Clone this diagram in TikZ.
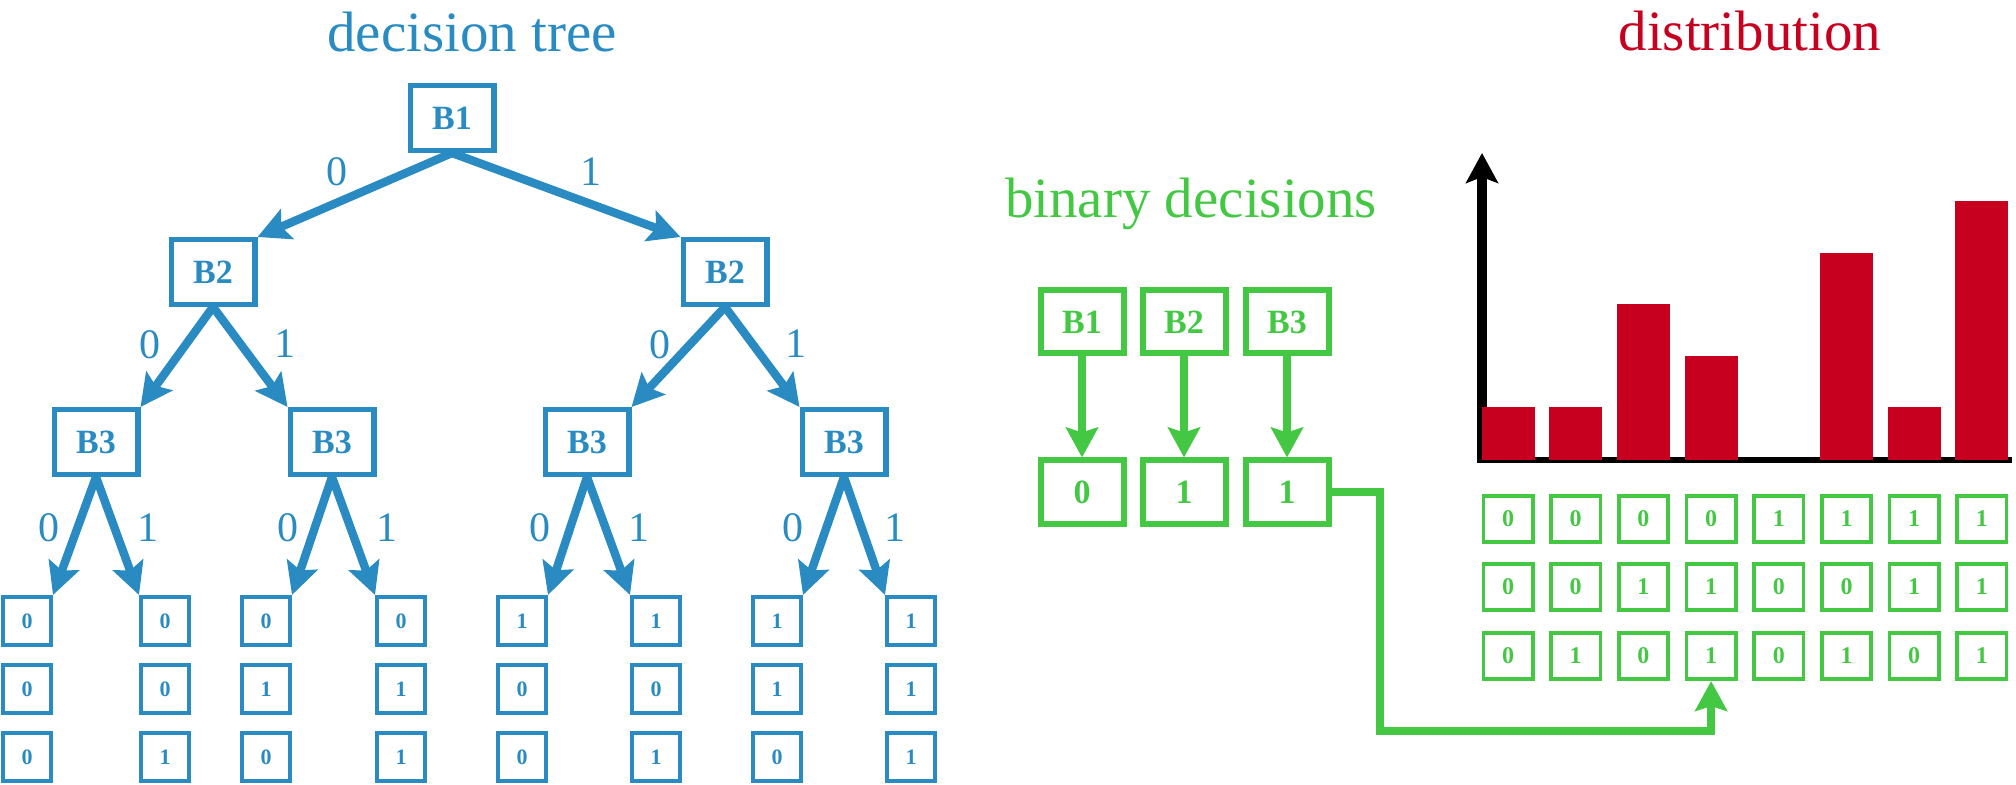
\documentclass[tikz,border=0pt]{standalone}
\usepackage{fontspec}
\setmainfont{Liberation Serif}
\usetikzlibrary{arrows.meta}
\definecolor{tblue}{RGB}{41,139,194}
\definecolor{ggreen}{RGB}{68,200,68}
\definecolor{dred}{RGB}{200,0,32}
\tikzset{
  tbox/.style={draw=tblue, line width=2.6pt, minimum width=41.9pt, minimum height=32.4pt, inner sep=0pt, text=tblue, font=\bfseries\fontsize{17}{17}\selectfont},
  leafbox/.style={draw=tblue, line width=1.8pt, minimum width=24.2pt, minimum height=24.2pt, inner sep=0pt, text=tblue, font=\bfseries\fontsize{11}{11}\selectfont},
  tarrow/.style={draw=tblue, line width=4.2pt, line cap=round, -{Stealth[length=16pt,width=16pt,inset=3pt]}},
  elabel/.style={text=tblue, font=\fontsize{21}{21}\selectfont, inner sep=0pt},
  gbox/.style={draw=ggreen, line width=3pt, minimum width=41.5pt, minimum height=31.5pt, inner sep=0pt, text=ggreen, font=\bfseries\fontsize{17}{17}\selectfont},
  gcell/.style={draw=ggreen, line width=1.8pt, minimum width=24.7pt, minimum height=23.2pt, inner sep=0pt, text=ggreen, font=\bfseries\fontsize{12}{12}\selectfont},
  garrow/.style={draw=ggreen, line width=4.2pt, -{Stealth[length=15pt,width=16pt,inset=2.5pt]}},
  barrect/.style={fill=dred, draw=none},
  titletext/.style={anchor=base, inner sep=0pt, font=\fontsize{28.5}{30}\selectfont},
}
\begin{document}
\begin{tikzpicture}[x=0.5pt,y=-0.5pt]
\useasboundingbox (0,0) rectangle (2016,785);

% titles
\node[titletext, text=tblue] (ttree) at (472,52) {decision tree};
\node[titletext, text=ggreen] (tbin) at (1191,218) {binary decisions};
\node[titletext, text=dred] (tdist) at (1750,51) {distribution};

% decision tree
\node[tbox] (b1) at (452,118) {B1};
\node[tbox] (b2l) at (213,272) {B2};
\node[tbox] (b2r) at (725,272) {B2};
\node[tbox] (b3a) at (96,442) {B3};
\node[tbox] (b3b) at (332,442) {B3};
\node[tbox] (b3c) at (587,442) {B3};
\node[tbox] (b3d) at (844,442) {B3};

\foreach \x [count=\i from 0] in {27,165,266,401,522,656,777,911} {
  \pgfmathtruncatemacro\bita{floor(\i/4)}
  \pgfmathtruncatemacro\bitb{mod(floor(\i/2),2)}
  \pgfmathtruncatemacro\bitc{mod(\i,2)}
  \node[leafbox] (l\i-1) at (\x,621) {\bita};
  \node[leafbox] (l\i-2) at (\x,689) {\bitb};
  \node[leafbox] (l\i-3) at (\x,757) {\bitc};
}

\draw[tarrow] (b1.south) -- (b2l.north east);
\draw[tarrow] (b1.south) -- (b2r.north west);
\draw[tarrow] (b2l.south) -- (b3a.north east);
\draw[tarrow] (b2l.south) -- (b3b.north west);
\draw[tarrow] (b2r.south) -- (b3c.north east);
\draw[tarrow] (b2r.south) -- (b3d.north west);
\draw[tarrow] (b3a.south) -- (l0-1.north east);
\draw[tarrow] (b3a.south) -- (l1-1.north west);
\draw[tarrow] (b3b.south) -- (l2-1.north east);
\draw[tarrow] (b3b.south) -- (l3-1.north west);
\draw[tarrow] (b3c.south) -- (l4-1.north east);
\draw[tarrow] (b3c.south) -- (l5-1.north west);
\draw[tarrow] (b3d.south) -- (l6-1.north east);
\draw[tarrow] (b3d.south) -- (l7-1.north west);

% edge labels
\node[elabel] (e1) at (337,172) {0};
\node[elabel] (e2) at (591,172) {1};
\node[elabel] (e3) at (150,345) {0};
\node[elabel] (e4) at (285,344) {1};
\node[elabel] (e5) at (660,345) {0};
\node[elabel] (e6) at (796,344) {1};
\node[elabel] (e7) at (49,528) {0};
\node[elabel] (e8) at (148,528) {1};
\node[elabel] (e9) at (288,528) {0};
\node[elabel] (e10) at (387,528) {1};
\node[elabel] (e11) at (540,528) {0};
\node[elabel] (e12) at (639,528) {1};
\node[elabel] (e13) at (793,528) {0};
\node[elabel] (e14) at (895,528) {1};

% binary decisions
\node[gbox] (g1) at (1082,322) {B1};
\node[gbox] (g2) at (1184,322) {B2};
\node[gbox] (g3) at (1287,322) {B3};
\node[gbox] (r1) at (1082,492) {0};
\node[gbox] (r2) at (1184,492) {1};
\node[gbox] (r3) at (1287,492) {1};
\draw[garrow] (g1.south) -- (r1.north);
\draw[garrow] (g2.south) -- (r2.north);
\draw[garrow] (g3.south) -- (r3.north);

% distribution axes
\coordinate (yfoot) at (1482,463);
\coordinate (ytip) at (1482,153);
\coordinate (xstart) at (1479,460);
\coordinate (xend) at (2012,460);
\draw[line width=3pt] (xstart) -- (xend);
\draw[line width=4.6pt, -{Stealth[length=15pt,width=16pt,inset=3pt]}] (yfoot) -- (ytip);

% bars and grid
\foreach \h [count=\i from 0] in {1,1,3,2,0,4,1,5} {
  \pgfmathsetmacro\cx{1508+67.7*\i}
  \pgfmathtruncatemacro\bita{floor(\i/4)}
  \pgfmathtruncatemacro\bitb{mod(floor(\i/2),2)}
  \pgfmathtruncatemacro\bitc{mod(\i,2)}
  \ifnum\h>0
    \fill[barrect] (\cx-26.5,460) rectangle (\cx+26.5,459-51.5*\h);
  \fi
  \node[gcell] (c\i-1) at (\cx,519) {\bita};
  \node[gcell] (c\i-2) at (\cx,587) {\bitb};
  \node[gcell] (c\i-3) at (\cx,656) {\bitc};
}

% connector
\coordinate (turn) at (1380,731);
\draw[garrow] (r3.east) -| (turn) -| (c3-3.south);
\end{tikzpicture}
\end{document}
